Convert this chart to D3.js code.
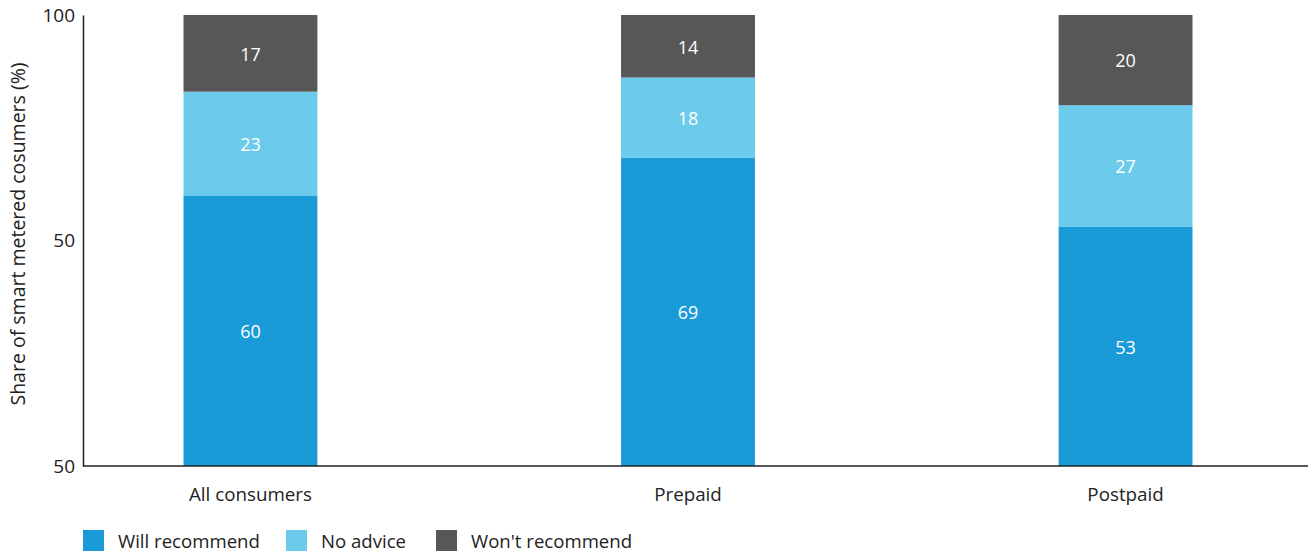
<!DOCTYPE html>
<html>
<head>
<meta charset="utf-8">
<script src="https://cdn.jsdelivr.net/npm/d3@7"></script>
<style>
  html, body { margin: 0; padding: 0; background: #fff; }
  svg { display: block; font-family: "Open Sans", sans-serif; }
</style>
</head>
<body>
<svg id="chart" width="1312" height="554"></svg>
<script>
// Chart data
const categories = ["All consumers", "Prepaid", "Postpaid"];
const willRecommend = [60, 69, 53];
const noAdvice = [23, 18, 27];
const wontRecommend = [17, 14, 20];
const seriesNames = ["Will recommend", "No advice", "Won't recommend"];
const seriesColors = ["#1a9ad6", "#6ccaeb", "#575757"];
const yTickValues = [0, 50, 100];
const yTickLabels = ["50", "50", "100"];
const yTitle = "Share of smart metered cosumers (%)";

const svg = d3.select("#chart");
const plot = { left: 83, right: 1308, top: 15, bottom: 466 };

const x = d3.scaleBand()
  .domain(categories)
  .range([96, 1280])
  .paddingInner(0.694)
  .paddingOuter(0.2);

const y = d3.scaleLinear().domain([0, 100]).range([plot.bottom, plot.top]);

// Rows, each stack scaled to a 100% share
const rows = categories.map((c, i) => {
  const vals = [willRecommend[i], noAdvice[i], wontRecommend[i]];
  const total = d3.sum(vals);
  const row = { category: c, total };
  seriesNames.forEach((s, j) => { row[s] = vals[j] * 100 / total; row[s + "_label"] = vals[j]; });
  return row;
});

const stacked = d3.stack().keys(seriesNames)(rows);

const layers = svg.append("g").selectAll("g")
  .data(stacked)
  .join("g")
  .attr("fill", (d, i) => seriesColors[i]);

layers.selectAll("rect")
  .data(d => d.map(p => ({ p, key: d.key })))
  .join("rect")
  .attr("x", d => x(d.p.data.category))
  .attr("width", x.bandwidth())
  .attr("y", d => y(d.p[1]))
  .attr("height", d => y(d.p[0]) - y(d.p[1]));

layers.selectAll("text")
  .data(d => d.map(p => ({ p, key: d.key })))
  .join("text")
  .attr("x", d => x(d.p.data.category) + x.bandwidth() / 2)
  .attr("y", d => (y(d.p[0]) + y(d.p[1])) / 2 + 1)
  .attr("dy", "0.35em")
  .attr("text-anchor", "middle")
  .attr("fill", "#fff")
  .attr("font-size", 18)
  .text(d => d.p.data[d.key + "_label"]);

// Y axis
const yAxis = d3.axisLeft(y)
  .tickValues(yTickValues)
  .tickFormat((d, i) => yTickLabels[i])
  .tickSize(0)
  .tickPadding(8);
const gy = svg.append("g").attr("transform", `translate(${plot.left},0)`).call(yAxis);
gy.select(".domain").attr("stroke", "#222").attr("stroke-width", 1.5);
gy.selectAll("text").attr("font-size", 19).attr("fill", "#222").attr("font-family", "Open Sans, sans-serif");

// X axis
const xAxis = d3.axisBottom(x).tickSize(0).tickPadding(22);
const gx = svg.append("g").attr("transform", `translate(0,${plot.bottom})`).call(xAxis);
gx.select(".domain").attr("d", `M${plot.left},0H${plot.right}`).attr("stroke", "#222").attr("stroke-width", 1.5);
gx.selectAll("text").attr("font-size", 18.8).attr("fill", "#222").attr("font-family", "Open Sans, sans-serif");

// Y title
svg.append("text")
  .attr("transform", `translate(25,234) rotate(-90)`)
  .attr("text-anchor", "middle")
  .attr("font-size", 19.5)
  .attr("fill", "#222")
  .text(yTitle);

// Legend
const legendX = [83, 286, 436];
const legend = svg.append("g").selectAll("g")
  .data(seriesNames)
  .join("g")
  .attr("transform", (d, i) => `translate(${legendX[i]},530)`);
legend.append("rect").attr("width", 21).attr("height", 21).attr("fill", (d, i) => seriesColors[i]);
legend.append("text")
  .attr("x", 35).attr("y", 11).attr("dy", "0.35em")
  .attr("font-size", 18.6).attr("fill", "#222")
  .text(d => d);
</script>
</body>
</html>
